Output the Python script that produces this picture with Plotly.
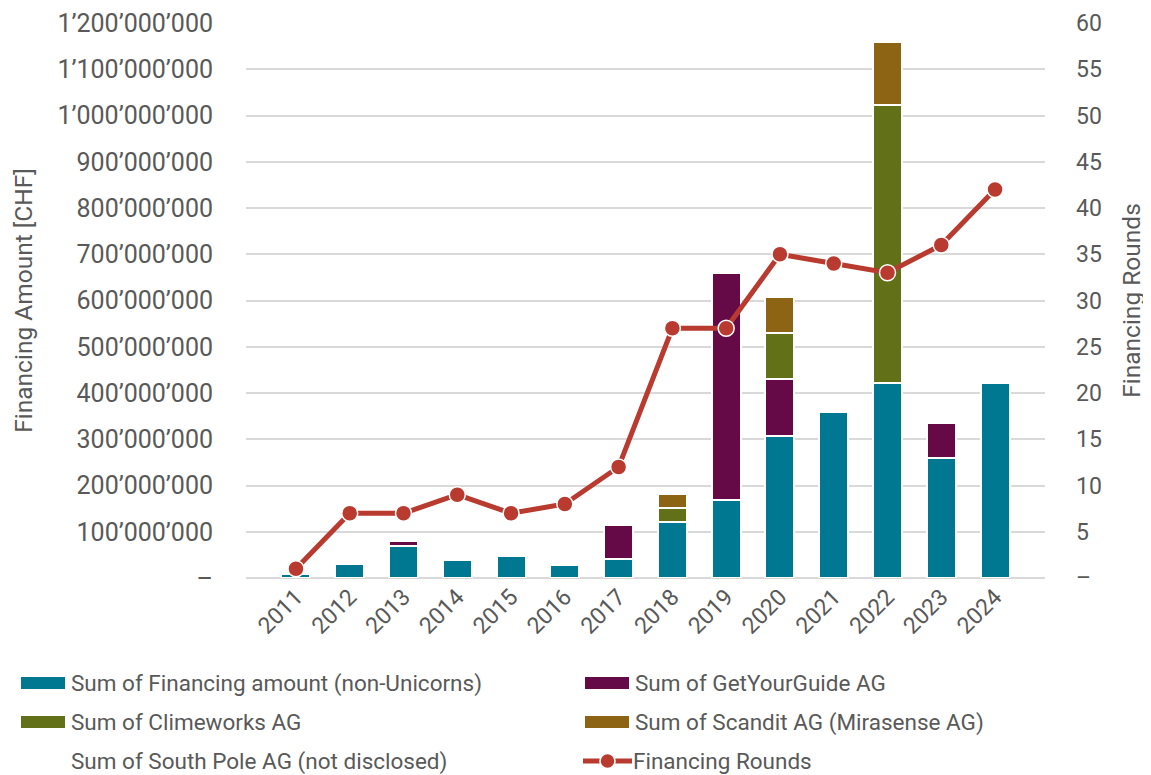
import plotly.graph_objects as go

# ---------------------------------------------------------------------------
# Data (CHF)
# ---------------------------------------------------------------------------
years = [str(y) for y in range(2011, 2025)]

non_unicorns = [8e6, 30e6, 70e6, 38e6, 48e6, 29e6, 41e6, 121e6, 169e6, 308e6, 358e6, 421e6, 259e6, 421e6]
getyourguide = [0, 0, 11e6, 2e6, 0, 0, 74e6, 0, 491e6, 122e6, 0, 0, 77e6, 0]
climeworks = [0, 0, 0, 0, 0, 0, 0, 30e6, 0, 100e6, 0, 602e6, 0, 0]
scandit = [0, 0, 0, 3e6, 0, 0, 4e6, 31e6, 0, 78e6, 0, 137e6, 0, 0]
south_pole = [0, 0, 0, 8e6, 0, 0, 0, 0, 0, 0, 0, 0, 0, 0]

financing_rounds = [1, 7, 7, 9, 7, 8, 12, 27, 27, 35, 34, 33, 36, 42]

left_ticks = [i * 100_000_000 for i in range(13)]
right_ticks = list(range(0, 61, 5))

# ---------------------------------------------------------------------------
# Colours
# ---------------------------------------------------------------------------
C_TEAL = "#007891"
C_PURPLE = "#650a47"
C_GREEN = "#627118"
C_GOLD = "#8c6414"
C_SOUTH = "#ffffff"
C_RED = "#b93a2f"
C_TEXT = "#595959"
C_GRID = "#d9d9d9"
FONT = "Roboto"


def fmt_chf(v):
    if v == 0:
        return "–"
    return f"{v:,.0f}".replace(",", "\u2019")


def fmt_rounds(v):
    return "–" if v == 0 else str(v)


bar_series = [
    ("Sum of Financing amount (non-Unicorns)", non_unicorns, C_TEAL),
    ("Sum of GetYourGuide AG", getyourguide, C_PURPLE),
    ("Sum of Climeworks AG", climeworks, C_GREEN),
    ("Sum of Scandit AG (Mirasense AG)", scandit, C_GOLD),
    ("Sum of South Pole AG (not disclosed)", south_pole, C_SOUTH),
]

fig = go.Figure()

# draw order so that the stack matches the reference (South Pole sits under Scandit)
stack_order = [0, 1, 2, 4, 3]
for i in stack_order:
    name, vals, color = bar_series[i]
    fig.add_trace(
        go.Bar(
            x=years, y=vals, name=name,
            marker=dict(color=color, line=dict(color="white", width=2)),
            showlegend=False,
        )
    )

fig.add_trace(
    go.Scatter(
        x=years, y=financing_rounds, name="Financing Rounds",
        mode="lines+markers", yaxis="y2",
        line=dict(color=C_RED, width=5),
        marker=dict(color=C_RED, size=16, line=dict(color="white", width=1.5)),
        showlegend=False,
    )
)

# ---------------------------------------------------------------------------
# Layout (page has an 8px body margin, so the figure is drawn 8px smaller)
# ---------------------------------------------------------------------------
OFF = 8
W, H = 1151 - OFF, 775 - OFF
L, R, T, B = 246 - OFF, 1045 - OFF, 23 - OFF, 578 - OFF


def px_x(x):
    return (x - OFF - L) / (R - L)


def px_y(y):
    return (B - (y - OFF)) / (B - T)


fig.update_layout(
    width=W, height=H,
    barmode="stack", bargap=0.46,
    paper_bgcolor="white", plot_bgcolor="white",
    font=dict(family=FONT, size=23, color=C_TEXT),
    margin=dict(l=L, r=W - R, t=T, b=H - B),
    showlegend=False,
    xaxis=dict(
        tickangle=-45, showgrid=False, ticks="", automargin=False,
        showline=False, tickfont=dict(size=23, color=C_TEXT),
    ),
    yaxis=dict(
        range=[0, 1.2e9], tickvals=left_ticks,
        ticktext=[fmt_chf(v) for v in left_ticks],
        tickfont=dict(size=25, color=C_TEXT), automargin=False,
        showgrid=True, gridcolor=C_GRID, gridwidth=2,
        zeroline=True, zerolinecolor=C_GRID, zerolinewidth=2,
        ticklabelstandoff=32,
        title=dict(text="Financing Amount [CHF]", standoff=17,
                   font=dict(size=24.5, color=C_TEXT)),
    ),
    yaxis2=dict(
        range=[0, 60], tickvals=right_ticks,
        ticktext=[fmt_rounds(v) for v in right_ticks],
        tickfont=dict(size=23, color=C_TEXT), automargin=False,
        overlaying="y", side="right", showgrid=False, zeroline=False,
        ticklabelstandoff=30,
        title=dict(text="Financing Rounds", standoff=21,
                   font=dict(size=24.5, color=C_TEXT)),
    ),
)

# ---------------------------------------------------------------------------
# Legend (two columns, drawn as shapes + text), positions in screenshot pixels
# ---------------------------------------------------------------------------
legend_items = [
    (bar_series[0][0], C_TEAL, "bar", 21, 683),
    (bar_series[1][0], C_PURPLE, "bar", 585, 683),
    (bar_series[2][0], C_GREEN, "bar", 21, 722),
    (bar_series[3][0], C_GOLD, "bar", 585, 722),
    (bar_series[4][0], C_SOUTH, "bar", 21, 761),
    ("Financing Rounds", C_RED, "line", 583, 761),
]

for text, color, kind, x0, yc in legend_items:
    if kind == "bar":
        fig.add_shape(
            type="rect", xref="paper", yref="paper",
            x0=px_x(x0), x1=px_x(x0 + 44), y0=px_y(yc + 6), y1=px_y(yc - 6),
            fillcolor=color, line=dict(width=0),
        )
    else:
        fig.add_shape(
            type="line", xref="paper", yref="paper",
            x0=px_x(x0), x1=px_x(x0 + 49), y0=px_y(yc), y1=px_y(yc),
            line=dict(color=color, width=5),
        )
        fig.add_shape(
            type="circle", xref="paper", yref="paper",
            x0=px_x(x0 + 17), x1=px_x(x0 + 32), y0=px_y(yc + 7.5), y1=px_y(yc - 7.5),
            fillcolor=color, line=dict(color="white", width=1.5),
        )
    fig.add_annotation(
        x=px_x(x0 + 48), y=px_y(yc), xref="paper", yref="paper",
        text=text, showarrow=False, xanchor="left", yanchor="middle",
        font=dict(family=FONT, size=22.5, color=C_TEXT),
    )

fig.write_html("out.html")
